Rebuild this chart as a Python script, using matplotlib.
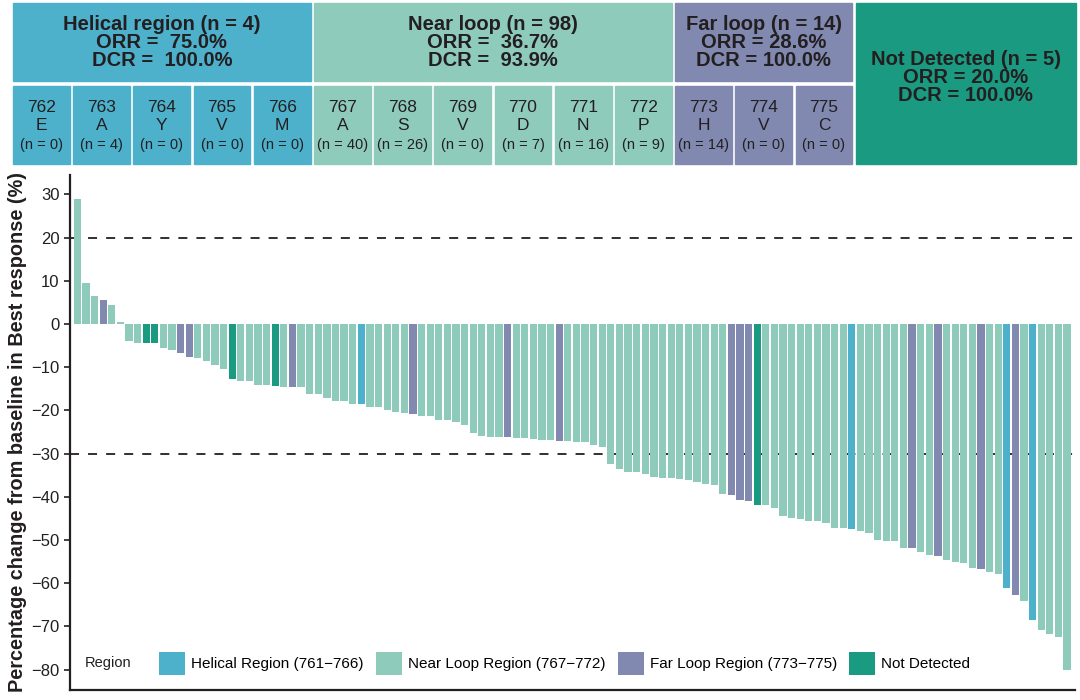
import matplotlib.pyplot as plt
from matplotlib.patches import Rectangle, Patch
import numpy as np

plt.rcParams['font.family'] = ['Liberation Sans', 'DejaVu Sans']

# best % change from baseline, sorted (waterfall)
change = [29.0, 9.4, 6.6, 5.5, 4.5, 0.5, -3.9, -4.3, -4.3, -4.5,
          -5.5, -6.1, -6.8, -7.7, -7.9, -8.6, -9.5, -10.3, -12.8, -13.1,
          -13.2, -14.2, -14.2, -14.4, -14.6, -14.6, -14.6, -16.1, -16.2, -17.0,
          -17.7, -17.9, -18.5, -18.6, -19.1, -19.2, -19.8, -20.3, -20.5, -20.9,
          -21.3, -21.3, -22.1, -22.3, -22.7, -23.3, -25.3, -25.9, -26.1, -26.1,
          -26.1, -26.3, -26.3, -26.7, -26.9, -26.9, -27.0, -27.1, -27.2, -27.3,
          -28.0, -28.4, -32.3, -33.6, -34.2, -34.3, -34.7, -35.3, -35.7, -35.7,
          -35.9, -36.0, -36.6, -37.0, -37.3, -39.3, -39.6, -40.8, -41.0, -41.8,
          -41.9, -42.5, -44.4, -45.0, -45.1, -45.5, -45.5, -46.0, -47.1, -47.1,
          -47.4, -48.0, -48.4, -50.0, -50.3, -50.3, -51.9, -51.9, -52.7, -53.5,
          -53.8, -54.7, -55.0, -55.4, -56.5, -56.8, -57.4, -57.9, -61.2, -62.7,
          -64.0, -68.4, -70.9, -71.8, -72.4, -80.0]

# H helical, N near loop, F far loop, D not detected
region = list("NNNFNNNNDDNNFFNNNNDNNNNDNFNNNNNNNHNNNNNFNNNNNNNNNNFNNNNNFNNNNN"
              "NNNNNNNNNNNNNNFFFDNNNNNNNNNNHNNNNNNFNNFNNNNFNNHFNHNNN")

colors = {'H': '#4db1cc', 'N': '#8fcbbb', 'F': '#8189b0', 'D': '#1b9a82'}
legend_labels = {'H': 'Helical Region (761\u2212766)',
                 'N': 'Near Loop Region (767\u2212772)',
                 'F': 'Far Loop Region (773\u2212775)',
                 'D': 'Not Detected'}

group_keys = ['H', 'N', 'F']
group_text = ['Helical region (n = 4)\nORR =  75.0%\nDCR =  100.0%',
              'Near loop (n = 98)\nORR =  36.7%\nDCR =  93.9%',
              'Far loop (n = 14)\nORR = 28.6%\nDCR = 100.0%']
nd_text = 'Not Detected (n = 5)\nORR = 20.0%\nDCR = 100.0%'

positions = ['762', '763', '764', '765', '766', '767', '768', '769', '770',
             '771', '772', '773', '774', '775']
residues = ['E', 'A', 'Y', 'V', 'M', 'A', 'S', 'V', 'D', 'N', 'P', 'H', 'V', 'C']
pos_n = [0, 4, 0, 0, 0, 40, 26, 0, 7, 16, 9, 14, 0, 0]
pos_group = ['H'] * 5 + ['N'] * 6 + ['F'] * 3

ink = '#231f20'

fig = plt.figure(figsize=(10.8, 7), dpi=100)

# header drawn in pixel-like coordinates
hax = fig.add_axes([0, 0, 1, 1], zorder=0)
hax.set_xlim(0, 1080)
hax.set_ylim(700, 0)
hax.axis('off')

x_start, pitch, bw = 13, 60.2, 56.8
for i, (p, r, n, g) in enumerate(zip(positions, residues, pos_n, pos_group)):
    x0 = x_start + i * pitch
    hax.add_patch(Rectangle((x0, 86), bw, 78, color=colors[g]))
    hax.text(x0 + bw / 2, 107, p, ha='center', va='center', fontsize=12.5, color=ink)
    hax.text(x0 + bw / 2, 126, r, ha='center', va='center', fontsize=12.5, color=ink)
    hax.text(x0 + bw / 2, 145, '(n = %d)' % n, ha='center', va='center', fontsize=10.5, color=ink)

for key, txt in zip(group_keys, group_text):
    idx = [i for i, g in enumerate(pos_group) if g == key]
    x0 = x_start + idx[0] * pitch
    x1 = x_start + idx[-1] * pitch + bw
    hax.add_patch(Rectangle((x0, 3), x1 - x0, 78, color=colors[key]))
    hax.text((x0 + x1) / 2, 42.5, txt, ha='center', va='center', fontsize=14.5,
             fontweight='bold', linespacing=0.95, color=ink)

nd_x0 = x_start + len(positions) * pitch
hax.add_patch(Rectangle((nd_x0, 3), 1076 - nd_x0, 161, color=colors['D']))
hax.text((nd_x0 + 1076) / 2, 77.5, nd_text, ha='center', va='center', fontsize=14.5,
         fontweight='bold', linespacing=0.95, color=ink)

# waterfall
ax = fig.add_axes([70 / 1080, 10 / 700, 1005 / 1080, 515 / 700], zorder=1)
ax.patch.set_alpha(0)
x = np.arange(len(change))
ax.bar(x, change, width=0.84, color=[colors[r] for r in region], zorder=2)
ax.axhline(20, color=ink, ls=(0, (5, 5)), lw=1.3, zorder=1)
ax.axhline(-30, color=ink, ls=(0, (5, 5)), lw=1.3, zorder=1)

ax.set_xlim(-0.85, len(change) - 0.07)
ax.set_ylim(-84.7, 34.5)
ax.set_yticks(np.arange(-80, 31, 10))
ax.set_xticks([])
ax.tick_params(axis='y', labelsize=12, length=4, width=1.2, color=ink, labelcolor=ink)
for s in ['top', 'right']:
    ax.spines[s].set_visible(False)
for s in ['left', 'bottom']:
    ax.spines[s].set_linewidth(1.6)
    ax.spines[s].set_color(ink)
ax.set_ylabel('Percentage change from baseline in Best response (%)', fontsize=14.3,
              fontweight='bold', color=ink, labelpad=3)

handles = [Patch(facecolor=colors[k], label=legend_labels[k]) for k in ['H', 'N', 'F', 'D']]
ax.text(15 / 1005, 0.052, 'Region', transform=ax.transAxes, fontsize=10.5,
        va='center', ha='left', color=ink)
ax.legend(handles=handles, ncol=4, loc='center left', bbox_to_anchor=(89 / 1005, 0.052),
          frameon=False, fontsize=11, handlelength=1.7, handleheight=1.9,
          handletextpad=0.4, columnspacing=0.8, borderpad=0, borderaxespad=0)

fig.savefig('out.png', dpi=100)
